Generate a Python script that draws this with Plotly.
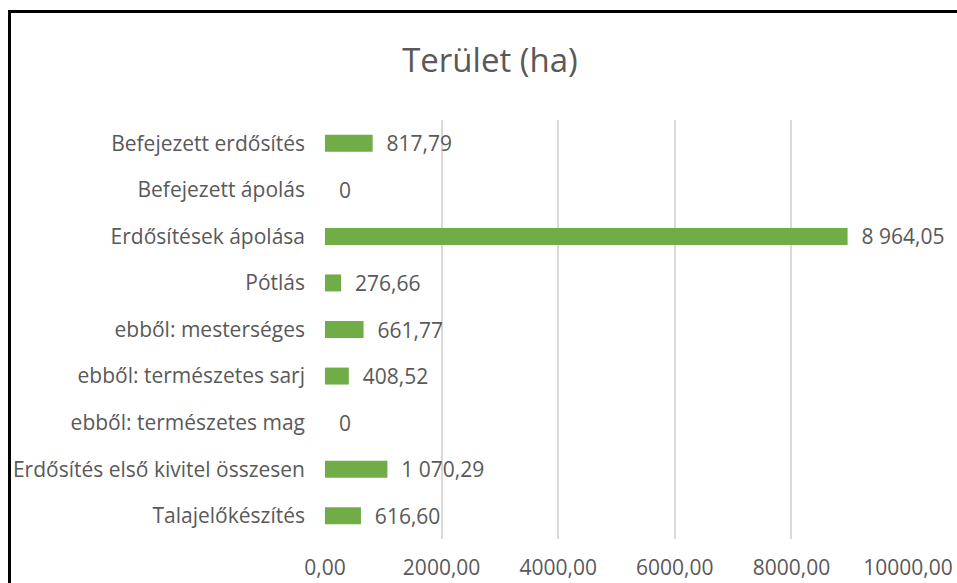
import plotly.graph_objects as go

categories = [
    "Talajelőkészítés",
    "Erdősítés első kivitel összesen",
    "ebből: természetes mag",
    "ebből: természetes sarj",
    "ebből: mesterséges",
    "Pótlás",
    "Erdősítések ápolása",
    "Befejezett ápolás",
    "Befejezett erdősítés",
]
values = [616.60, 1070.29, 0, 408.52, 661.77, 276.66, 8964.05, 0, 817.79]
x_ticks = [0, 2000, 4000, 6000, 8000, 10000]
title_text = "Terület (ha)"


def hu_fmt(v):
    if v == 0:
        return "0"
    s = f"{v:,.2f}"
    return s.replace(",", " ").replace(".", ",")


labels = ["\u00a0\u00a0" + hu_fmt(v) for v in values]
tick_text = [f"{t:.2f}".replace(".", ",") for t in x_ticks]

W, H = 957, 583
ML, MR, MT, MB = 325, 49, 120, 44
pw = W - ML - MR
ph = H - MT - MB

FONT = "Open Sans, Segoe UI, sans-serif"
GRAY = "#595959"
FS = 21

fig = go.Figure(
    go.Bar(
        x=values,
        y=categories,
        orientation="h",
        marker=dict(color="#70AD47", line=dict(width=0)),
        text=labels,
        textposition="outside",
        constraintext="none",
        cliponaxis=False,
        textfont=dict(family=FONT, size=FS, color=GRAY),
        hoverinfo="skip",
    )
)


def px_x(p):
    return (p - ML) / pw


def px_y(p):
    return (H - MB - p) / ph


fig.add_shape(
    type="rect",
    xref="paper", yref="paper",
    x0=px_x(9.5), x1=px_x(1100), y0=px_y(11.5), y1=px_y(700),
    line=dict(color="black", width=3),
    fillcolor="rgba(0,0,0,0)",
    layer="above",
)

fig.update_layout(
    width=W, height=H,
    margin=dict(l=ML, r=MR, t=MT, b=MB, autoexpand=False),
    paper_bgcolor="white",
    plot_bgcolor="white",
    bargap=0.635,
    showlegend=False,
    title=dict(
        text=title_text,
        x=490 / W, xanchor="center",
        y=1 - 60 / H, yanchor="middle", yref="container", xref="container",
        font=dict(family=FONT, size=33, color=GRAY),
    ),
    xaxis=dict(
        range=[0, 10000],
        tickvals=x_ticks,
        ticktext=tick_text,
        showgrid=True,
        gridcolor="#D9D9D9",
        gridwidth=2,
        zeroline=False,
        showline=False,
        ticks="",
        ticklabelstandoff=14,
        tickfont=dict(family=FONT, size=FS, color=GRAY),
        automargin=False,
        fixedrange=True,
    ),
    yaxis=dict(
        showgrid=False,
        zeroline=False,
        showline=False,
        ticks="",
        ticklabelstandoff=19,
        tickfont=dict(family=FONT, size=FS, color=GRAY),
        automargin=False,
        fixedrange=True,
    ),
)

fig.write_html(
    "out.html",
    config={"displayModeBar": False},
    post_script="document.body.style.margin='0';document.body.style.overflow='hidden';",
)
